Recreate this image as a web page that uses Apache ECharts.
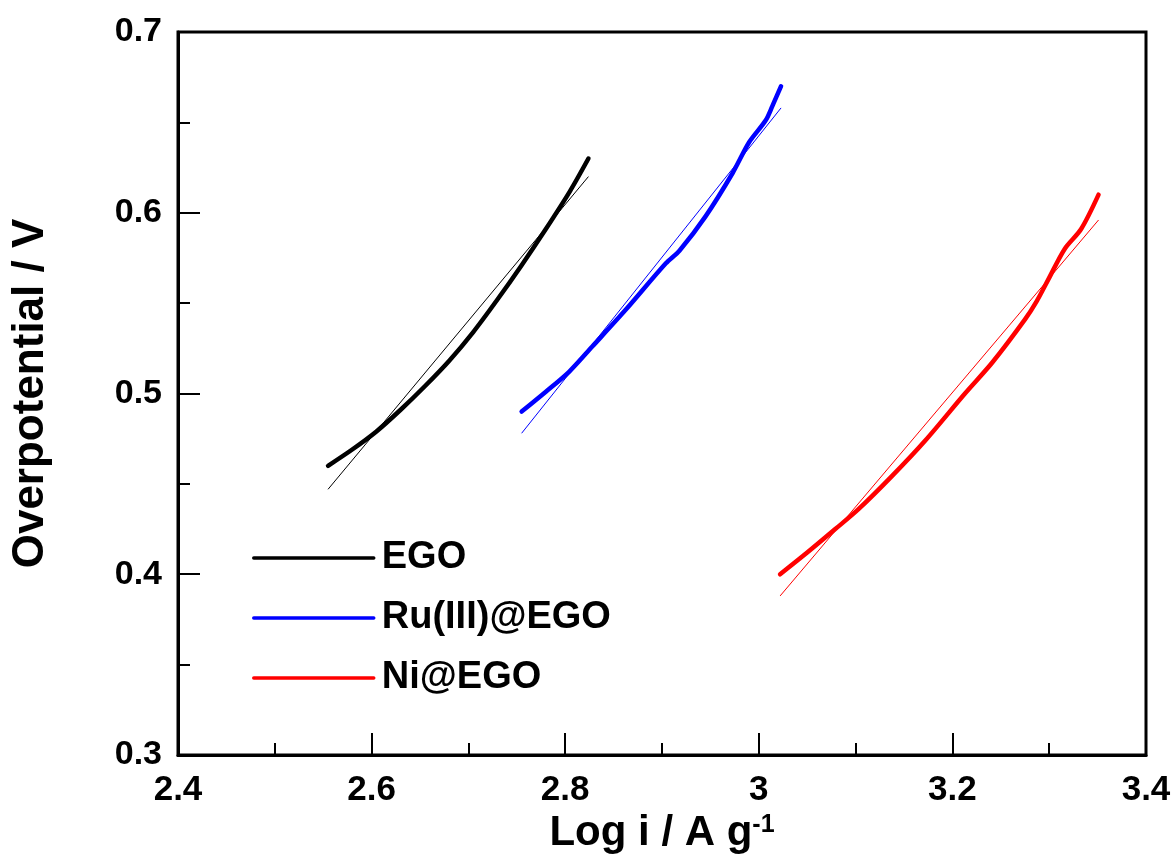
<!DOCTYPE html>
<html>
<head>
<meta charset="utf-8">
<script src="https://cdn.jsdelivr.net/npm/echarts@6/dist/echarts.min.js"></script>
<style>
  html, body { margin: 0; padding: 0; background: #fff; }
  #chart { width: 1176px; height: 863px; }
</style>
</head>
<body>
<div id="chart"></div>
<script>
// datos
var egoX = [2.555, 2.580, 2.605, 2.630, 2.655, 2.680, 2.705, 2.730, 2.755, 2.780, 2.805, 2.824];
var egoY = [0.460, 0.469, 0.479, 0.491, 0.504, 0.518, 0.534, 0.552, 0.571, 0.591, 0.612, 0.630];
var egoFitX = [2.555, 2.824];
var egoFitY = [0.447, 0.620];

var ruX = [2.755, 2.780, 2.804, 2.828, 2.862, 2.904, 2.918, 2.945, 2.973, 2.990, 3.007, 3.014, 3.023];
var ruY = [0.490, 0.501, 0.512, 0.526, 0.546, 0.572, 0.579, 0.598, 0.622, 0.639, 0.651, 0.659, 0.670];
var ruFitX = [2.755, 3.023];
var ruFitY = [0.478, 0.658];

var niX = [3.022, 3.050, 3.079, 3.103, 3.137, 3.172, 3.213, 3.241, 3.275, 3.287, 3.299, 3.316, 3.333, 3.351];
var niY = [0.400, 0.412, 0.425, 0.436, 0.454, 0.474, 0.500, 0.517, 0.541, 0.551, 0.563, 0.580, 0.591, 0.610];
var niFitX = [3.022, 3.351];
var niFitY = [0.388, 0.596];

var names = ['EGO', 'Ru(III)@EGO', 'Ni@EGO'];
var colores = ['#000000', '#0000ff', '#ff0000'];

function pares(xs, ys) {
    var out = [];
    for (var i = 0; i < xs.length; i++) out.push([xs[i], ys[i]]);
    return out;
}

var fuente = "'Liberation Sans', Arial, sans-serif";

var curva = function(name, color, xs, ys) {
    return {
        name: name, type: 'line', symbol: 'none', smooth: 0.3,
        data: pares(xs, ys),
        lineStyle: { color: color, width: 4.5, cap: 'round', join: 'round' },
        itemStyle: { color: color },
        z: 3
    };
};
var ajuste = function(name, color, xs, ys) {
    return {
        name: name, type: 'line', symbol: 'none',
        data: pares(xs, ys),
        lineStyle: { color: color, width: 1 },
        itemStyle: { color: color },
        z: 2
    };
};

var myChart = echarts.init(document.getElementById('chart'), null, { renderer: 'canvas' });
var option = {
    animation: false,
    backgroundColor: '#fff',
    grid: {
        left: 178, right: 30, top: 32, bottom: 108,
        show: true, borderColor: '#000', borderWidth: 3
    },
    legend: {
        orient: 'vertical',
        left: 252, top: 538, padding: 0,
        data: names,
        itemWidth: 120, itemHeight: 40, itemGap: 20,
        itemStyle: { opacity: 0 },
        lineStyle: { width: 3.5 },
        textStyle: { fontFamily: fuente, fontWeight: 'bold', fontSize: 38, lineHeight: 40, color: '#000', padding: [0, 0, 0, 3] }
    },
    xAxis: {
        type: 'value', min: 2.4, max: 3.4, interval: 0.2,
        name: 'Log i / A g{sup|-1}',
        nameLocation: 'middle', nameGap: 47,
        nameTextStyle: {
            fontFamily: fuente, fontWeight: 'bold', fontSize: 42, color: '#000',
            rich: { sup: { fontFamily: fuente, fontWeight: 'bold', fontSize: 25, color: '#000', verticalAlign: 'top' } }
        },
        axisLine: { lineStyle: { color: '#000', width: 3 } },
        axisTick: { inside: true, length: 22, lineStyle: { color: '#000', width: 2 } },
        minorTick: { show: true, splitNumber: 2, length: 12, lineStyle: { color: '#000', width: 2 } },
        splitLine: { show: false },
        axisLabel: {
            margin: 18, fontFamily: fuente, fontWeight: 'bold', fontSize: 35, color: '#000',
            formatter: function(v) { return +v.toFixed(1) + ''; }
        }
    },
    yAxis: {
        type: 'value', min: 0.3, max: 0.7, interval: 0.1,
        name: 'Overpotential / V',
        nameLocation: 'middle', nameGap: 125,
        nameTextStyle: { fontFamily: fuente, fontWeight: 'bold', fontSize: 44, color: '#000' },
        axisLine: { lineStyle: { color: '#000', width: 3 } },
        axisTick: { inside: true, length: 22, lineStyle: { color: '#000', width: 2 } },
        minorTick: { show: true, splitNumber: 2, length: 12, lineStyle: { color: '#000', width: 2 } },
        splitLine: { show: false },
        axisLabel: {
            margin: 16, fontFamily: fuente, fontWeight: 'bold', fontSize: 34, color: '#000',
            formatter: function(v) { return v.toFixed(1); }
        }
    },
    series: [
        ajuste('EGO fit', colores[0], egoFitX, egoFitY),
        ajuste('Ru(III)@EGO fit', colores[1], ruFitX, ruFitY),
        ajuste('Ni@EGO fit', colores[2], niFitX, niFitY),
        curva(names[0], colores[0], egoX, egoY),
        curva(names[1], colores[1], ruX, ruY),
        curva(names[2], colores[2], niX, niY)
    ]
};
myChart.setOption(option);
</script>
</body>
</html>
